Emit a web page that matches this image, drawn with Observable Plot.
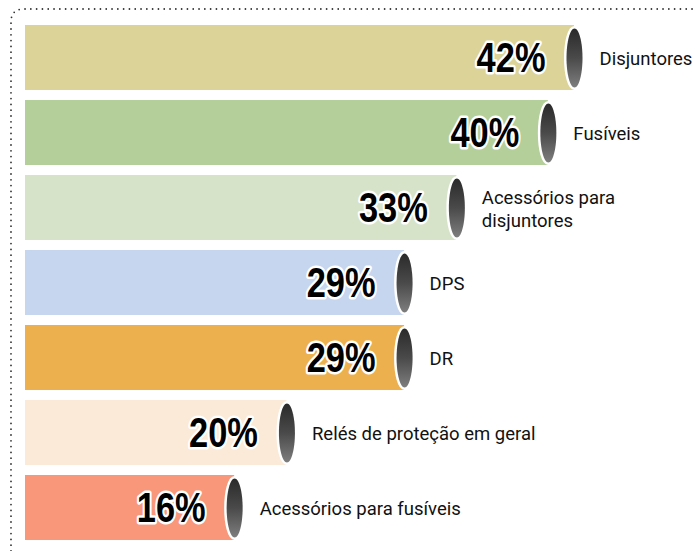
<!DOCTYPE html>
<html>
<head>
<meta charset="utf-8">
<script src="https://cdn.jsdelivr.net/npm/d3@7"></script>
<script src="https://cdn.jsdelivr.net/npm/@observablehq/plot@0.6"></script>
<style>
  html, body { margin: 0; padding: 0; background: #fff; }
  #chart svg { display: block; }
</style>
</head>
<body>
<div id="chart"></div>
<script>
const categories = ["Disjuntores", "Fusíveis", "Acessórios para\ndisjuntores", "DPS", "DR", "Relés de proteção em geral", "Acessórios para fusíveis"];
const values = [42, 40, 33, 29, 29, 20, 16];
const colors = ["#dcd398", "#b4cf99", "#d6e3c9", "#c7d6ef", "#edb04f", "#faead7", "#f8977a"];
const valueLabels = ["42%", "40%", "33%", "29%", "29%", "20%", "16%"];

const data = categories.map((c, i) => ({cat: c, value: values[i], color: colors[i], label: valueLabels[i]}));

const ellipse = {
  draw(ctx) {
    const rx = 8, ry = 29.5, k = 0.5523;
    ctx.moveTo(rx, 0);
    ctx.bezierCurveTo(rx, ry * k, rx * k, ry, 0, ry);
    ctx.bezierCurveTo(-rx * k, ry, -rx, ry * k, -rx, 0);
    ctx.bezierCurveTo(-rx, -ry * k, -rx * k, -ry, 0, -ry);
    ctx.bezierCurveTo(rx * k, -ry, rx, -ry * k, rx, 0);
    ctx.closePath();
  }
};

const plot = Plot.plot({
  width: 695,
  height: 551,
  marginLeft: 25,
  marginRight: 121,
  marginTop: 24,
  marginBottom: 10,
  style: {background: "transparent", overflow: "visible"},
  x: {domain: [0, 42], axis: null},
  y: {domain: categories, paddingInner: 0.14, paddingOuter: 0, axis: null},
  color: {domain: categories, range: colors},
  marks: [
    Plot.barX(data, {x1: 0, x2: "value", y: "cat", fill: "cat"}),
    Plot.dot(data, {x: "value", y: "cat", symbol: ellipse, r: 10, fill: "url(#cylGrad)", stroke: "white", strokeWidth: 5, paintOrder: "stroke"}),
    Plot.text(data, {x: "value", y: "cat", text: "label", dx: -29, dy: 1, textAnchor: "end",
      fontSize: 42, fontWeight: "bold", fontFamily: "'Liberation Sans', Arial, sans-serif",
      fill: "black", stroke: "white", strokeWidth: 5, paintOrder: "stroke"}),
    Plot.text(data, {x: "value", y: "cat", text: "cat", dx: 25, textAnchor: "start", lineAnchor: "middle",
      fontSize: 18.5, fontFamily: "Roboto, 'Noto Sans', sans-serif", fill: "#111", lineHeight: 1.25})
  ]
});

// condense the percentage labels horizontally
d3.select(plot).selectAll('g[font-size="42"] text').each(function() {
  const t = this.getAttribute("transform") || "";
  this.setAttribute("transform", t + " scale(0.82,1)");
});

const ns = "http://www.w3.org/2000/svg";
const defs = document.createElementNS(ns, "defs");
defs.innerHTML = `<linearGradient id="cylGrad" x1="0" y1="0" x2="0" y2="1">
  <stop offset="0" stop-color="#2a2a2a"/>
  <stop offset="0.5" stop-color="#4a4a4a"/>
  <stop offset="1" stop-color="#7e7e7e"/>
</linearGradient>`;
plot.insertBefore(defs, plot.firstChild);

const border = document.createElementNS(ns, "path");
border.setAttribute("d", "M11,551 L11,22 Q11,9 24,9 L695,9");
border.setAttribute("fill", "none");
border.setAttribute("stroke", "#333");
border.setAttribute("stroke-width", "1.8");
border.setAttribute("stroke-dasharray", "0 5.8");
border.setAttribute("stroke-linecap", "round");
plot.insertBefore(border, defs.nextSibling);

document.getElementById("chart").appendChild(plot);
</script>
</body>
</html>
